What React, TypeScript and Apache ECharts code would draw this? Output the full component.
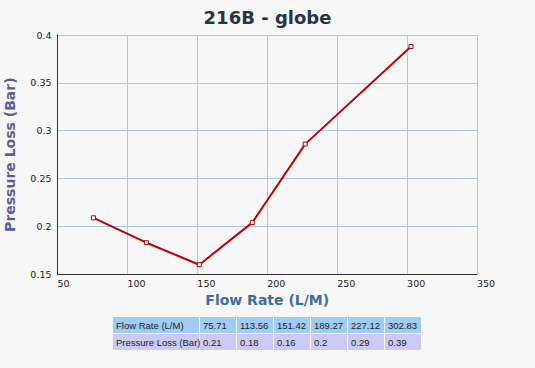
import React, { useEffect, useRef } from "react";
import * as echarts from "echarts";

const chartTitle = "216B - globe";
const xAxisName = "Flow Rate (L/M)";
const yAxisName = "Pressure Loss (Bar)";
const flowRates = [75.71, 113.56, 151.42, 189.27, 227.12, 302.83];
const pressureLoss = [0.209, 0.183, 0.16, 0.204, 0.286, 0.388];
const tableRowLabels = ["Flow Rate (L/M)", "Pressure Loss (Bar)"];

const FONT = "DejaVu Sans";
const TFONT = "Liberation Sans";

function buildTable(): any[] {
  const els: any[] = [];
  const rows = [
    { label: tableRowLabels[0], values: flowRates.map((v) => String(v)), fill: "#a0cbf5" },
    { label: tableRowLabels[1], values: pressureLoss.map((v) => String(Math.round(v * 100) / 100)), fill: "#cacaf6" },
  ];
  const left = 113;
  const firstW = 86;
  const colW = 36;
  const gap = 1;
  const top = 317;
  const rowH = 16;
  rows.forEach((row, r) => {
    const y = top + r * (rowH + gap);
    const cells = [row.label, ...row.values];
    cells.forEach((txt, c) => {
      const x = c === 0 ? left : left + firstW + gap + (c - 1) * (colW + gap);
      const w = c === 0 ? firstW : colW;
      els.push({
        type: "rect",
        shape: { x, y, width: w, height: rowH },
        style: { fill: row.fill },
        silent: true,
      });
      els.push({
        type: "text",
        x: x + 3,
        y: y + rowH / 2,
        style: {
          text: txt,
          fill: "#222",
          font: `9.5px "${TFONT}"`,
          textVerticalAlign: "middle",
          textAlign: "left",
        },
        silent: true,
      });
    });
  });
  return els;
}

export default function App() {
  const ref = useRef<HTMLDivElement>(null);
  useEffect(() => {
    if (!ref.current) return;
    const chart = echarts.init(ref.current, undefined, { renderer: "svg" });
    chart.setOption({
      animation: false,
      backgroundColor: "#f7f7f8",
      title: {
        text: chartTitle,
        left: "center",
        top: 3,
        textStyle: { fontFamily: FONT, fontSize: 18, fontWeight: "bold", color: "#2a3346" },
      },
      grid: { left: 57.5, right: 58, top: 35, bottom: 93.7, containLabel: false, outerBoundsMode: "none" },
      xAxis: {
        type: "value",
        min: 50,
        max: 350,
        interval: 50,
        name: xAxisName,
        nameLocation: "middle",
        nameGap: 15,
        nameTextStyle: { fontFamily: FONT, fontSize: 14, fontWeight: "bold", color: "#3e6c9c", verticalAlign: "top" },
        axisLine: { show: true, lineStyle: { color: "#333", width: 1 } },
        axisTick: { show: false },
        axisLabel: { fontFamily: FONT, fontSize: 9.5, color: "#222", align: "left", margin: 4 },
        splitLine: { show: true, lineStyle: { color: "#a9c9ea", width: 1 } },
      },
      yAxis: {
        type: "value",
        min: 0.15,
        max: 0.4,
        interval: 0.05,
        name: yAxisName,
        nameLocation: "middle",
        nameGap: 41,
        nameTextStyle: { fontFamily: FONT, fontSize: 14, fontWeight: "bold", color: "#5c5c9c" },
        axisLine: { show: true, lineStyle: { color: "#333", width: 1 } },
        axisTick: { show: false },
        axisLabel: {
          fontFamily: FONT,
          fontSize: 9.5,
          color: "#222",
          margin: 6,
          formatter: (v: number) => String(+v.toFixed(2)),
        },
        splitLine: { show: true, lineStyle: { color: "#a9c9ea", width: 1 } },
      },
      series: [
        {
          type: "line",
          data: flowRates.map((x, i) => [x, pressureLoss[i]]),
          lineStyle: { color: "#c00000", width: 2 },
          symbol: "rect",
          symbolSize: 4,
          itemStyle: { color: "#ffffff", borderColor: "#b00000", borderWidth: 1 },
          z: 5,
        },
      ],
      graphic: buildTable(),
    });
    return () => chart.dispose();
  }, []);
  return (
    <div
      ref={ref}
      style={{ position: "fixed", left: 0, top: 0, width: 535, height: 368 }}
    />
  );
}
